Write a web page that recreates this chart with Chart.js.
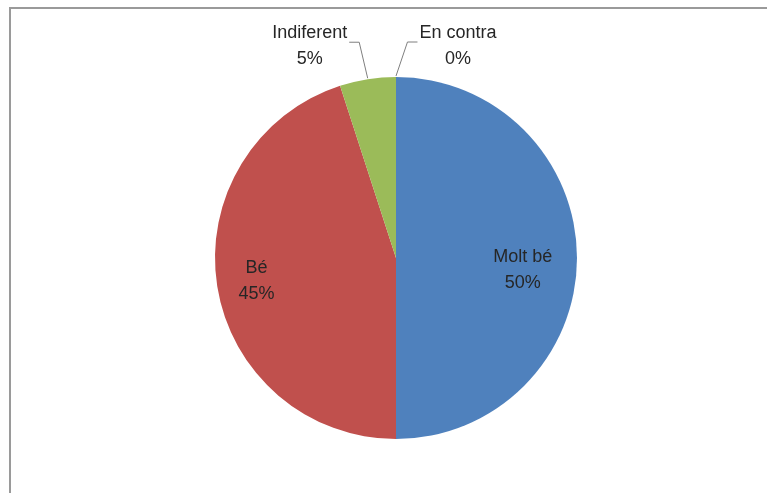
<!DOCTYPE html>
<html>
<head>
<meta charset="utf-8">
<script src="https://cdn.jsdelivr.net/npm/chart.js@4/dist/chart.umd.min.js"></script>
<style>
  html, body { margin: 0; padding: 0; background: #fff; }
  #wrap { position: relative; width: 767px; height: 493px; overflow: hidden; }
  #frame { position: absolute; left: 9px; top: 7px; right: -5px; bottom: -5px;
           border-left: 2px solid #9a9a9a; border-top: 2px solid #9a9a9a; }
  #chart { position: absolute; left: 0; top: 0; }
</style>
</head>
<body>
<div id="wrap">
  <div id="frame"></div>
  <canvas id="chart" width="767" height="493"></canvas>
</div>
<script>
const categories = ['Molt bé', 'Bé', 'Indiferent', 'En contra'];
const values = [50, 45, 5, 0];
const percentLabels = ['50%', '45%', '5%', '0%'];
const colors = ['#4F81BD', '#C0504D', '#9BBB59', '#8064A2'];

// where each label goes: inside at a fraction of the radius, or outside with a leader line
const labelPlace = [
    { inside: true, frac: 0.70, dy: 12 },
    { inside: true, frac: 0.78, dy: 1 },
    { inside: false, dx: -58, dy: -33 },
    { inside: false, dx: 62, dy: -31 }
];

const FONT = '18px "Liberation Sans", Arial, sans-serif';

const pieLabels = {
    id: 'pieLabels',
    afterDatasetsDraw(chart) {
        const c = chart.ctx;
        const meta = chart.getDatasetMeta(0);
        c.save();
        c.font = FONT;
        c.textAlign = 'center';
        c.textBaseline = 'middle';
        meta.data.forEach((arc, i) => {
            const p = arc.getProps(['x', 'y', 'startAngle', 'endAngle', 'outerRadius'], true);
            const mid = (p.startAngle + p.endAngle) / 2;
            const place = labelPlace[i];
            let tx, ty;
            if (place.inside) {
                const r = p.outerRadius * place.frac;
                tx = p.x + Math.cos(mid) * r;
                ty = p.y + Math.sin(mid) * r + place.dy;
            } else {
                const ax = p.x + Math.cos(mid) * p.outerRadius;
                const ay = p.y + Math.sin(mid) * p.outerRadius;
                tx = ax + place.dx;
                ty = ay + place.dy;
                // leader line
                const w = c.measureText(categories[i]).width;
                const lineY = ty - 4;
                const side = place.dx < 0 ? 1 : -1;
                const textEdge = tx + side * (w / 2 + 2);
                const elbow = textEdge + side * 10;
                c.strokeStyle = '#7f7f7f';
                c.lineWidth = 1;
                c.beginPath();
                c.moveTo(textEdge, lineY);
                c.lineTo(elbow, lineY);
                c.lineTo(ax, ay - 1);
                c.stroke();
            }
            c.fillStyle = '#262626';
            c.fillText(categories[i], tx, ty - 13);
            c.fillText(percentLabels[i], tx, ty + 13);
        });
        c.restore();
    }
};

new Chart(document.getElementById('chart'), {
    type: 'pie',
    data: {
        labels: categories,
        datasets: [
            {
                data: values,
                backgroundColor: colors,
                borderWidth: 0
            }
        ]
    },
    options: {
        responsive: false,
        animation: false,
        layout: {
            padding: { left: 215, right: 190, top: 76, bottom: 53 }
        },
        plugins: {
            legend: { display: false },
            tooltip: { enabled: false }
        }
    },
    plugins: [pieLabels]
});
</script>
</body>
</html>
